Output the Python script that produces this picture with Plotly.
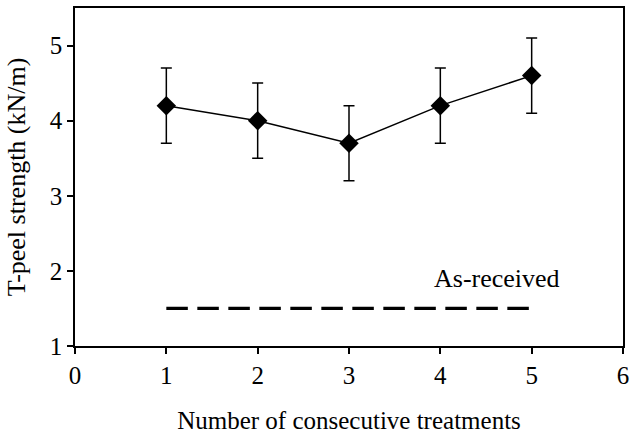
import plotly.graph_objects as go

treatments = [1, 2, 3, 4, 5]
strength = [4.2, 4.0, 3.7, 4.2, 4.6]
err = [0.5, 0.5, 0.5, 0.5, 0.5]
asrec_x = [1, 5]
asrec_y = [1.5, 1.5]
x_ticks = [0, 1, 2, 3, 4, 5, 6]
y_ticks = [1, 2, 3, 4, 5]

FONT = "Liberation Serif"

fig = go.Figure()
fig.add_trace(go.Scatter(
    x=asrec_x, y=asrec_y, mode="lines",
    line=dict(color="black", width=3.2, dash="21.5px,9.5px"),
    showlegend=False, hoverinfo="skip"))
fig.add_trace(go.Scatter(
    x=treatments, y=strength, mode="lines+markers",
    line=dict(color="black", width=1.5),
    marker=dict(symbol="diamond", size=15, color="black"),
    error_y=dict(type="data", array=err, visible=True, color="black",
                 thickness=1.5, width=5.5),
    showlegend=False))
fig.add_annotation(x=4.62, y=1.9, text="As-received", showarrow=False,
                   font=dict(family=FONT, size=26, color="black"))

axis_common = dict(showgrid=False, zeroline=False, showline=True, linecolor="black",
                   linewidth=1.5, mirror=True, ticks="outside", ticklen=6,
                   tickwidth=1.5, tickcolor="black",
                   tickfont=dict(family=FONT, size=25, color="black"))
fig.update_xaxes(range=[0, 6], tickvals=x_ticks,
                 title=dict(text="Number of consecutive treatments",
                            font=dict(family=FONT, size=25, color="black"), standoff=24),
                 **axis_common)
fig.update_yaxes(range=[1, 5.5], tickvals=y_ticks,
                 title=dict(text="T-peel strength (kN/m)",
                            font=dict(family=FONT, size=26, color="black"), standoff=17),
                 **axis_common)
fig.update_layout(width=635, height=436, margin=dict(l=75, r=6, t=7, b=90),
                  font=dict(family=FONT, color="black"),
                  plot_bgcolor="white", paper_bgcolor="white")
fig.write_html("out.html")
